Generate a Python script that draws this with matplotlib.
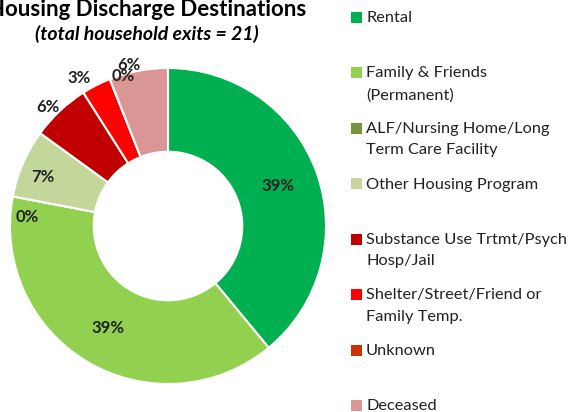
import numpy as np
import matplotlib
matplotlib.use("Agg")
from matplotlib import pyplot as plt
from matplotlib.patches import Rectangle

plt.rcParams['font.family'] = ['Lato', 'DejaVu Sans']

categories = ["Rental", "Family & Friends\n(Permanent)", "ALF/Nursing Home/Long\nTerm Care Facility",
              "Other Housing Program", "Substance Use Trtmt/Psych\nHosp/Jail",
              "Shelter/Street/Friend or\nFamily Temp.", "Unknown", "Deceased"]
shares = [39, 39, 0, 7, 6, 3, 0, 6]
pct_labels = ["39%", "39%", "0%", "7%", "6%", "3%", "0%", "6%"]
colors = ["#00B050", "#92D050", "#77933C", "#C4D79B", "#C00000", "#FF0000", "#CC3300", "#DA9694"]

W, H = 571, 412
fig = plt.figure(figsize=(W / 100, H / 100), dpi=100)

# pie axes: centre (168,226) px, radius 158 px
cx, cy, R = 168, 226, 158
ax = fig.add_axes([(cx - R) / W, (H - cy - R) / H, 2 * R / W, 2 * R / H])
wedges, _ = ax.pie(shares, colors=colors, startangle=90, counterclock=False, radius=1,
                   wedgeprops=dict(width=0.53, edgecolor="white", linewidth=1.5))
ax.set_xlim(-1, 1)
ax.set_ylim(-1, 1)
ax.set_aspect("equal")
ax.axis("off")

# label radius and small angle nudges (deg)
lab_r = [0.74, 0.75, 0.89, 0.85, 1.07, 1.09, 0.99, 1.05]
lab_da = [0, 0, 7, 2, 2, 4, -5, 3]
for w, txt, r, da in zip(wedges, pct_labels, lab_r, lab_da):
    ang = np.deg2rad((w.theta1 + w.theta2) / 2 + da)
    ax.text(r * np.cos(ang), r * np.sin(ang), txt, ha="center", va="center",
            fontsize=12, fontweight="bold", color="#222222", clip_on=False)

fig.text(147 / W, 1 - 10 / H, "Housing Discharge Destinations", ha="center", va="center",
         fontsize=16, fontweight="bold", color="black")
fig.text(147 / W, 1 - 34 / H, "(total household exits = 21)", ha="center", va="center",
         fontsize=14, fontweight="bold", style="italic", color="black")

# legend drawn manually
y0, step = 17, 55.5
for i, (lab, c) in enumerate(zip(categories, colors)):
    y = y0 + i * step
    fig.add_artist(Rectangle((351 / W, 1 - (y + 5.5) / H), 11 / W, 11 / H,
                             transform=fig.transFigure, facecolor=c, edgecolor="none"))
    fig.text(366 / W, 1 - (y - 6) / H, lab, ha="left", va="top", fontsize=11.8,
             color="#222222", linespacing=1.68)

fig.savefig("out.png", dpi=100)
